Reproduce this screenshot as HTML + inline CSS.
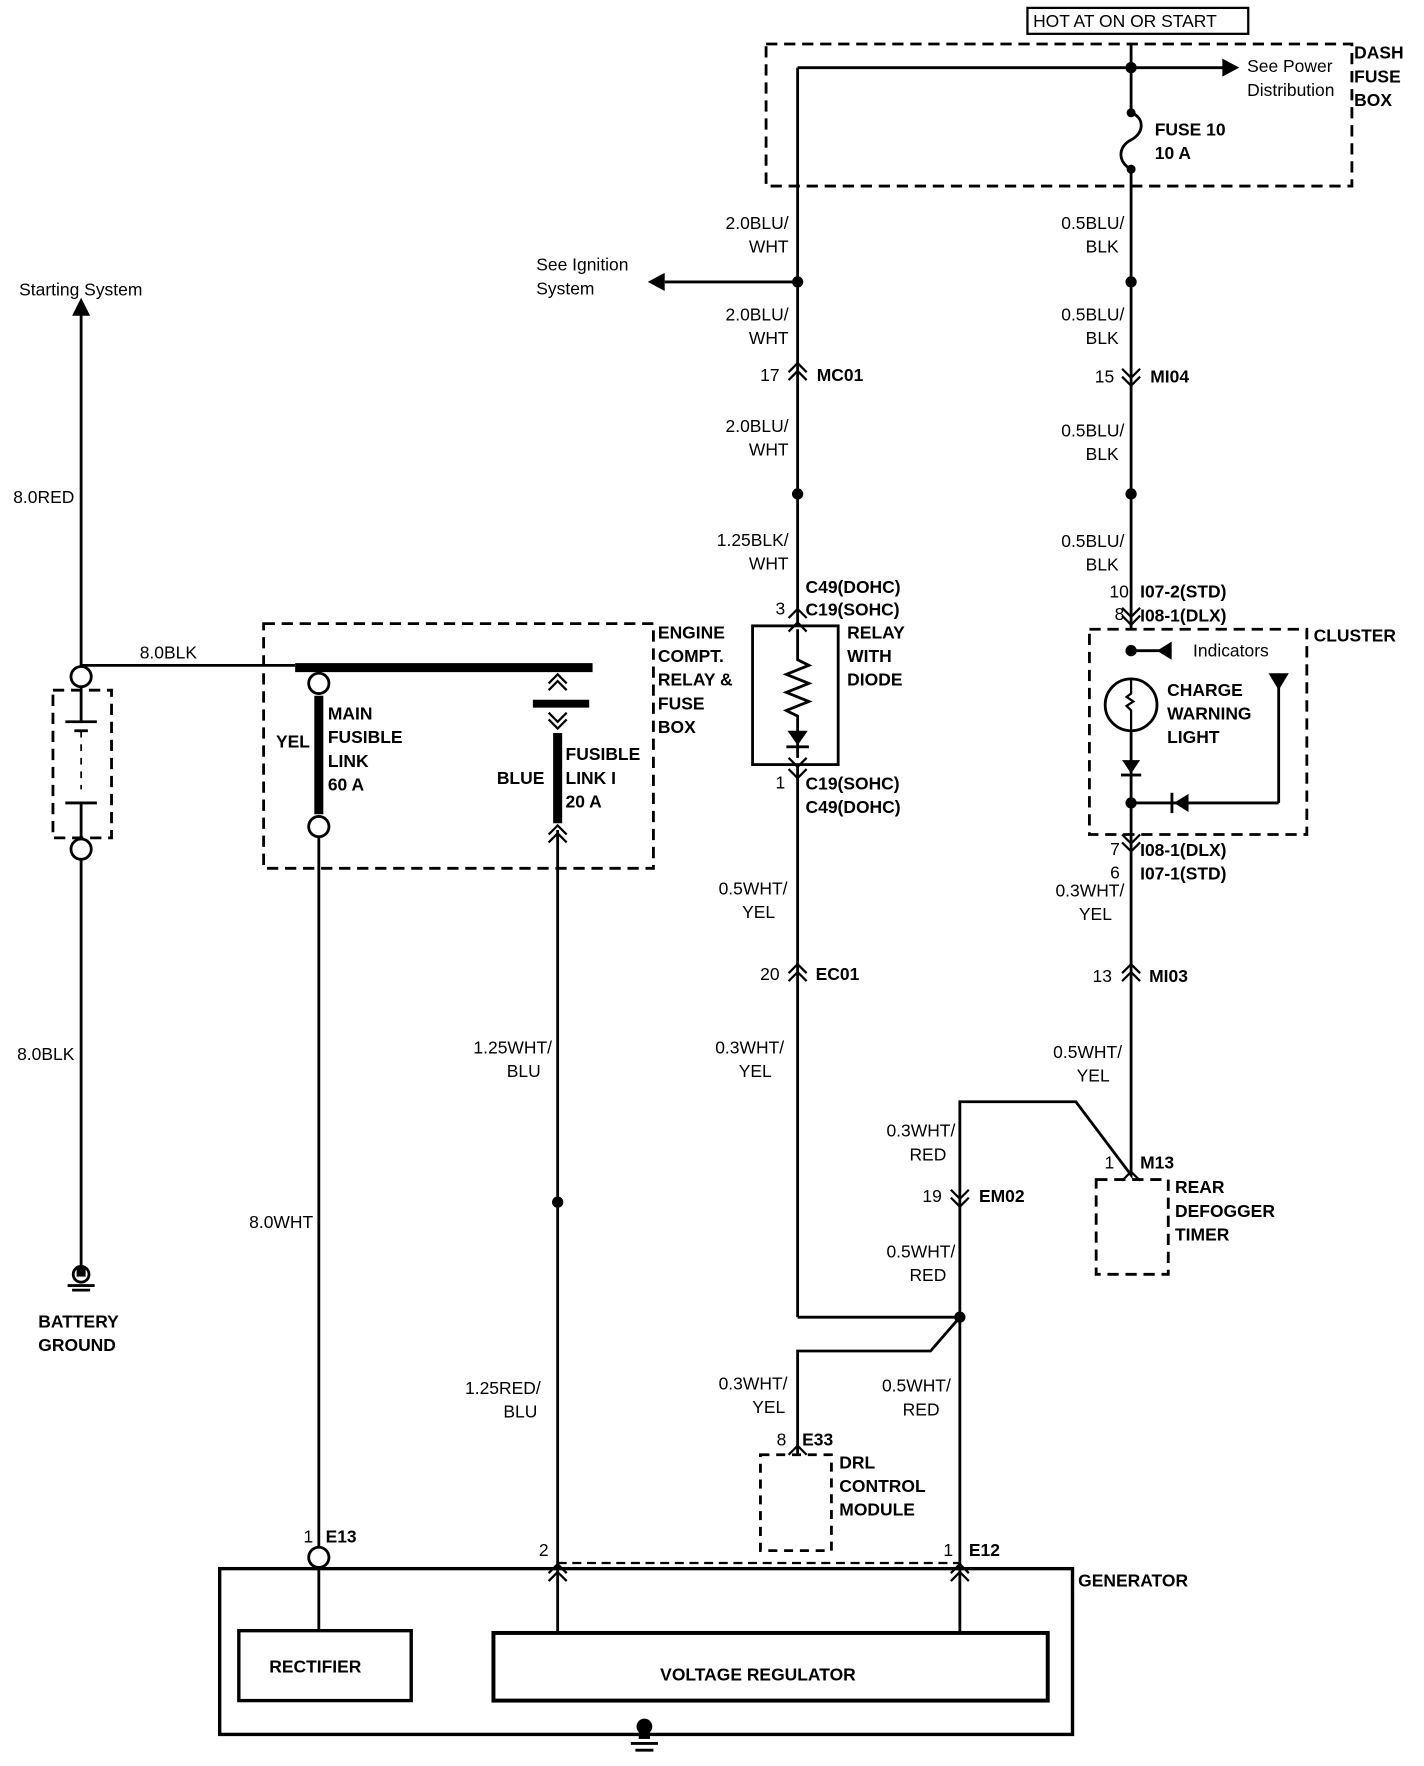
<!DOCTYPE html>
<html><head><meta charset="utf-8"><style>
html,body{margin:0;padding:0;background:#fff}
svg{display:block}
text{font-family:"Liberation Sans",sans-serif;font-size:15.5px;fill:#000}
.b{font-weight:bold}
</style></head><body>
<svg width="1424" height="1766" viewBox="0 0 1264 1566" preserveAspectRatio="none" xmlns="http://www.w3.org/2000/svg">
<g fill="none" stroke="#000" stroke-width="2.5">
<!-- HOT AT box -->
<rect x="912" y="7" width="196" height="23" stroke-width="2"/>
<!-- dashed boxes -->
<rect x="680" y="39" width="520" height="126" stroke-dasharray="10,6"/>
<rect x="234" y="553" width="346" height="217" stroke-dasharray="10,6"/>
<rect x="967" y="558" width="193" height="182" stroke-dasharray="10,6"/>
<rect x="47" y="612" width="52" height="131" stroke-dasharray="10,6"/>
<rect x="973" y="1046" width="64" height="84" stroke-dasharray="10,6"/>
<rect x="675" y="1290" width="63" height="85" stroke-dasharray="8,6"/>
<line x1="495" y1="1386" x2="852" y2="1386" stroke-dasharray="8,5" stroke-width="2"/>
<!-- top wires -->
<line x1="708" y1="60" x2="1088" y2="60"/>
<line x1="708" y1="60" x2="708" y2="556"/>
<line x1="1004" y1="38" x2="1004" y2="100"/>
<path d="M1004 100 C1016 104 1016 118 1004 124 C992 130 992 144 1004 150"/>
<line x1="1004" y1="150" x2="1004" y2="557"/>
<line x1="708" y1="250" x2="590" y2="250"/>
<!-- relay -->
<rect x="668" y="555" width="76" height="123"/>
<path d="M708 558 L708 585 L718 590 L698 598 L718 606 L698 614 L718 622 L698 630 L708 635 L708 672"/>
<line x1="708" y1="678" x2="708" y2="1168"/>
<line x1="708" y1="1168" x2="852" y2="1168"/>
<path d="M852 1168 L826 1198 L708 1198 L708 1290"/>
<path d="M1004 740 L1004 1042 L955 977 L852 977 L852 1385"/>
<!-- cluster -->
<line x1="1004" y1="577" x2="1040" y2="577"/>
<circle cx="1004" cy="625" r="23"/>
<path d="M1004 602 L1004 615 L1000 618 L1006 622 L1000 626 L1004 630 L1004 648" stroke-width="2"/>
<line x1="1004" y1="648" x2="1004" y2="740"/>
<line x1="1004" y1="712" x2="1135" y2="712"/>
<line x1="1135" y1="712" x2="1135" y2="608"/>
<!-- left -->
<line x1="72" y1="278" x2="72" y2="590"/>
<line x1="72" y1="590" x2="262" y2="590"/>
<circle cx="72" cy="600" r="9" fill="#fff"/>
<line x1="72" y1="609" x2="72" y2="640"/>
<line x1="58" y1="640" x2="86" y2="640"/>
<line x1="66" y1="648" x2="78" y2="648"/>
<line x1="72" y1="648" x2="72" y2="700" stroke-dasharray="6,6" stroke-width="1.5"/>
<line x1="58" y1="712" x2="86" y2="712"/>
<line x1="72" y1="712" x2="72" y2="744"/>
<circle cx="72" cy="753" r="9" fill="#fff"/>
<line x1="72" y1="762" x2="72" y2="1122"/>
<!-- ground battery -->
<circle cx="72" cy="1130" r="7"/>
<line x1="60" y1="1140" x2="84" y2="1140"/>
<line x1="64" y1="1144" x2="80" y2="1144"/>
<!-- engine box internals -->
<line x1="262" y1="592" x2="526" y2="592" stroke-width="8"/>
<circle cx="283" cy="606" r="9" fill="#fff"/>
<line x1="283" y1="617" x2="283" y2="722" stroke-width="8"/>
<circle cx="283" cy="733" r="9" fill="#fff"/>
<line x1="283" y1="742" x2="283" y2="1372"/>
<circle cx="283" cy="1381" r="9" fill="#fff"/>
<line x1="283" y1="1390" x2="283" y2="1445"/>
<path d="M487 606 L495 598 L503 606 M487 612 L495 604 L503 612" stroke-width="2"/>
<line x1="473" y1="624" x2="523" y2="624" stroke-width="7"/>
<path d="M487 632 L495 640 L503 632 M487 638 L495 646 L503 638" stroke-width="2"/>
<line x1="495" y1="650" x2="495" y2="730" stroke-width="8"/>
<line x1="495" y1="736" x2="495" y2="1447"/>
<line x1="852" y1="1385" x2="852" y2="1447"/>
<!-- generator -->
<rect x="195" y="1391" width="757" height="147" stroke-width="3"/>
<rect x="212" y="1446" width="153" height="62" stroke-width="3"/>
<rect x="438" y="1448" width="492" height="60" stroke-width="3.5"/>
<line x1="560" y1="1546" x2="584" y2="1546"/>
<line x1="564" y1="1552" x2="580" y2="1552"/>
<!-- connectors chevrons -->
<g stroke-width="2">
<path d="M700 330 L708 322 L716 330 M700 337 L708 329 L716 337"/>
<path d="M996 327 L1004 335 L1012 327 M996 334 L1004 342 L1012 334"/>
<path d="M700 548 L708 540 L716 548 M700 560 L708 552 L716 560"/>
<path d="M996 539 L1004 547 L1012 539 M996 546 L1004 554 L1012 546"/>
<path d="M700 682 L708 690 L716 682 M700 672 L708 680 L716 672"/>
<path d="M996 740 L1004 748 L1012 740 M996 747 L1004 755 L1012 747"/>
<path d="M700 863 L708 855 L716 863 M700 870 L708 862 L716 870"/>
<path d="M996 863 L1004 855 L1012 863 M996 870 L1004 862 L1012 870"/>
<path d="M844 1055 L852 1063 L860 1055 M844 1062 L852 1070 L860 1062"/>
<path d="M487 740 L495 732 L503 740 M487 747 L495 739 L503 747"/>
<path d="M487 1395 L495 1387 L503 1395 M487 1402 L495 1394 L503 1402"/>
<path d="M844 1395 L852 1387 L860 1395 M844 1402 L852 1394 L860 1402"/>
<path d="M996 1047 L1004 1039 L1012 1047"/>
<path d="M700 1290 L708 1282 L716 1290"/>
</g>
</g>
<!-- filled shapes -->
<g fill="#000">
<circle cx="1004" cy="60" r="5"/>
<circle cx="1004" cy="100" r="4"/><circle cx="1004" cy="150" r="4"/>
<circle cx="708" cy="250" r="5"/><circle cx="708" cy="438" r="5"/>
<circle cx="1004" cy="250" r="5"/><circle cx="1004" cy="438" r="5"/>
<circle cx="1004" cy="577" r="5"/><circle cx="1004" cy="712" r="5"/>
<circle cx="852" cy="1168" r="5"/><circle cx="495" cy="1066" r="5"/>
<polygon points="1085,52 1100,60 1085,68"/>
<polygon points="590,242 575,250 590,258"/>
<polygon points="64,280 72,264 80,280"/>
<polygon points="1040,569 1040,585 1027,577"/>
<polygon points="1126,597 1144,597 1135,612"/>
<polygon points="996,674 1012,674 1004,686"/><rect x="995" y="686" width="18" height="2.5"/>
<polygon points="1055,704 1055,720 1042,712"/><rect x="1039" y="703" width="2.5" height="18"/>
<polygon points="699,648 717,648 708,661"/><rect x="698" y="661" width="20" height="2.5"/>
<circle cx="572" cy="1531" r="7"/>
<rect x="567" y="1536" width="10" height="6"/>
<rect x="68" y="1124" width="8" height="8" fill="#000"/>
</g>
<!-- labels -->
<text x="917" y="24">HOT AT ON OR START</text>
<text x="1202" y="52" class="b">DASH</text><text x="1202" y="73" class="b">FUSE</text><text x="1202" y="94" class="b">BOX</text>
<text x="1107" y="64">See Power</text><text x="1107" y="85">Distribution</text>
<text x="1025" y="120" class="b">FUSE 10</text><text x="1025" y="141" class="b">10 A</text>
<g text-anchor="end">
<text x="700" y="203">2.0BLU/</text><text x="700" y="224">WHT</text>
<text x="700" y="284">2.0BLU/</text><text x="700" y="305">WHT</text>
<text x="700" y="383">2.0BLU/</text><text x="700" y="404">WHT</text>
<text x="700" y="484">1.25BLK/</text><text x="700" y="505">WHT</text>
<text x="998" y="203">0.5BLU/</text><text x="993" y="224">BLK</text>
<text x="998" y="284">0.5BLU/</text><text x="993" y="305">BLK</text>
<text x="998" y="387">0.5BLU/</text><text x="993" y="408">BLK</text>
<text x="998" y="485">0.5BLU/</text><text x="993" y="506">BLK</text>
<text x="699" y="793">0.5WHT/</text><text x="688" y="814">YEL</text>
<text x="696" y="934">0.3WHT/</text><text x="685" y="955">YEL</text>
<text x="998" y="795">0.3WHT/</text><text x="987" y="816">YEL</text>
<text x="996" y="938">0.5WHT/</text><text x="985" y="959">YEL</text>
<text x="848" y="1008">0.3WHT/</text><text x="840" y="1029">RED</text>
<text x="848" y="1115">0.5WHT/</text><text x="840" y="1136">RED</text>
<text x="699" y="1232">0.3WHT/</text><text x="697" y="1253">YEL</text>
<text x="844" y="1234">0.5WHT/</text><text x="834" y="1255">RED</text>
<text x="490" y="934">1.25WHT/</text><text x="480" y="955">BLU</text>
<text x="480" y="1236">1.25RED/</text><text x="477" y="1257">BLU</text>
<text x="278" y="1089">8.0WHT</text>
<text x="66" y="446">8.0RED</text>
<text x="66" y="940">8.0BLK</text>
<text x="692" y="338">17</text><text x="989" y="339">15</text>
<text x="697" y="545">3</text><text x="1002" y="530">10</text><text x="998" y="550">8</text>
<text x="697" y="699">1</text>
<text x="994" y="758">7</text><text x="994" y="779">6</text>
<text x="692" y="869">20</text><text x="987" y="871">13</text>
<text x="836" y="1066">19</text><text x="989" y="1036">1</text>
<text x="698" y="1282">8</text>
<text x="278" y="1368">1</text><text x="487" y="1380">2</text><text x="846" y="1380">1</text>
</g>
<text x="476" y="240">See Ignition</text><text x="476" y="261">System</text>
<text x="17" y="262">Starting System</text>
<text x="124" y="584">8.0BLK</text>
<g class="b">
<text x="725" y="338" class="b">MC01</text>
<text x="1021" y="339" class="b">MI04</text>
<text x="715" y="526" class="b">C49(DOHC)</text><text x="715" y="546" class="b">C19(SOHC)</text>
<text x="752" y="566" class="b">RELAY</text><text x="752" y="587" class="b">WITH</text><text x="752" y="608" class="b">DIODE</text>
<text x="715" y="700" class="b">C19(SOHC)</text><text x="715" y="721" class="b">C49(DOHC)</text>
<text x="1012" y="530" class="b">I07-2(STD)</text><text x="1012" y="551" class="b">I08-1(DLX)</text>
<text x="1166" y="569" class="b">CLUSTER</text>
<text x="1036" y="617" class="b">CHARGE</text><text x="1036" y="638" class="b">WARNING</text><text x="1036" y="659" class="b">LIGHT</text>
<text x="1012" y="759" class="b">I08-1(DLX)</text><text x="1012" y="780" class="b">I07-1(STD)</text>
<text x="724" y="869" class="b">EC01</text><text x="1020" y="871" class="b">MI03</text>
<text x="1012" y="1036" class="b">M13</text>
<text x="1043" y="1058" class="b">REAR</text><text x="1043" y="1079" class="b">DEFOGGER</text><text x="1043" y="1100" class="b">TIMER</text>
<text x="869" y="1066" class="b">EM02</text>
<text x="712" y="1282" class="b">E33</text>
<text x="745" y="1302" class="b">DRL</text><text x="745" y="1323" class="b">CONTROL</text><text x="745" y="1344" class="b">MODULE</text>
<text x="289" y="1368" class="b">E13</text><text x="860" y="1380" class="b">E12</text>
<text x="957" y="1407" class="b">GENERATOR</text>
<text x="584" y="566" class="b">ENGINE</text><text x="584" y="587" class="b">COMPT.</text><text x="584" y="608" class="b">RELAY &amp;</text><text x="584" y="629" class="b">FUSE</text><text x="584" y="650" class="b">BOX</text>
<text x="291" y="638" class="b">MAIN</text><text x="291" y="659" class="b">FUSIBLE</text><text x="291" y="680" class="b">LINK</text><text x="291" y="701" class="b">60 A</text>
<text x="245" y="663" class="b">YEL</text>
<text x="502" y="674" class="b">FUSIBLE</text><text x="502" y="695" class="b">LINK I</text><text x="502" y="716" class="b">20 A</text>
<text x="441" y="695" class="b">BLUE</text>
<text x="34" y="1177" class="b">BATTERY</text><text x="34" y="1198" class="b">GROUND</text>
<text x="239" y="1483" class="b">RECTIFIER</text>
<text x="586" y="1490" class="b">VOLTAGE REGULATOR</text>
</g>
<text x="1059" y="582">Indicators</text>
</svg>
</body></html>
